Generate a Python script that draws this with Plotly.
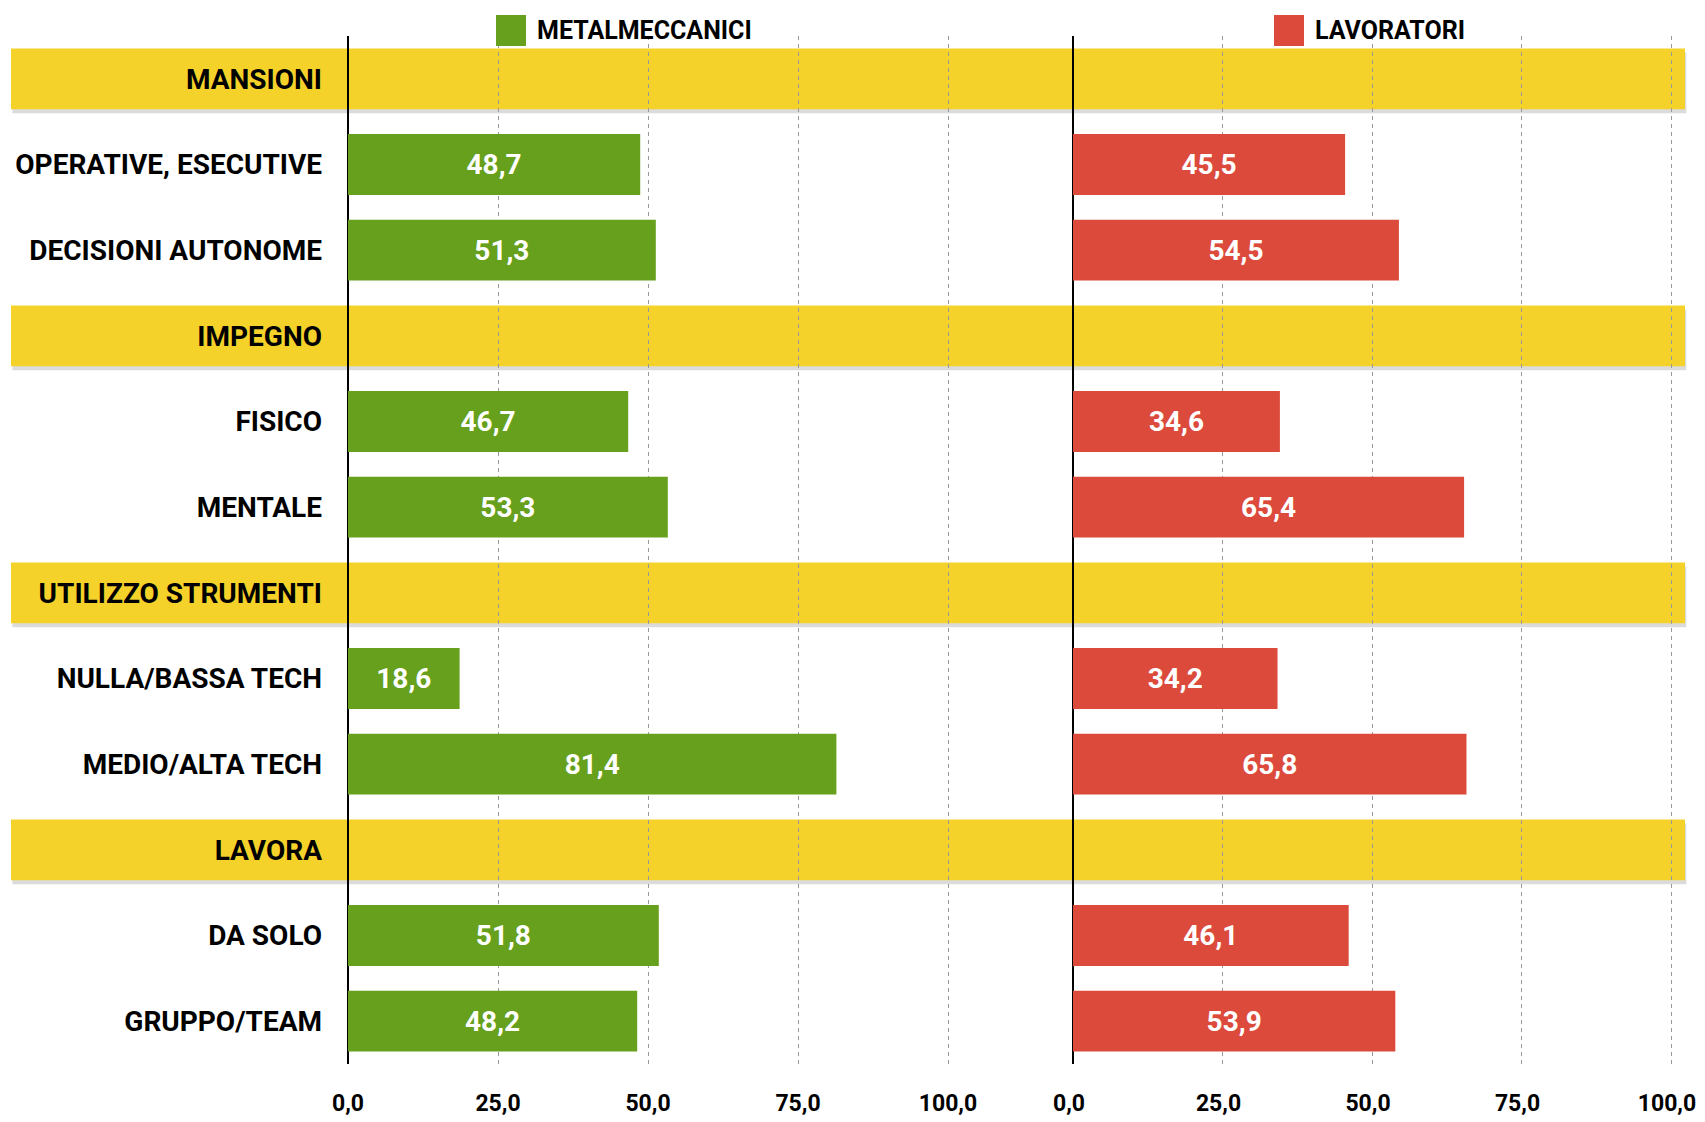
import plotly.graph_objects as go
from plotly.subplots import make_subplots

categories = ["MANSIONI", "OPERATIVE, ESECUTIVE", "DECISIONI AUTONOME",
              "IMPEGNO", "FISICO", "MENTALE",
              "UTILIZZO STRUMENTI", "NULLA/BASSA TECH", "MEDIO/ALTA TECH",
              "LAVORA", "DA SOLO", "GRUPPO/TEAM"]
is_section = [True, False, False, True, False, False, True, False, False, True, False, False]
metalmeccanici = [None, 48.7, 51.3, None, 46.7, 53.3, None, 18.6, 81.4, None, 51.8, 48.2]
lavoratori = [None, 45.5, 54.5, None, 34.6, 65.4, None, 34.2, 65.8, None, 46.1, 53.9]
x_ticks = [0, 25, 50, 75, 100]

FONT = "Roboto, sans-serif"
GREEN = "#66a01c"
RED = "#dc4a3c"
YELLOW = "#f5d22a"

OFF = 8  # page body margin
W, H = 1705 - OFF, 1122 - OFF
# target screen pixel positions (from the reference)
LEFT0, SPLIT0, RIGHT_EDGE, TOP, BOTTOM = 348, 1073, 1685, 36, 1064
ML = LEFT0 - OFF
MR = W - (RIGHT_EDGE - OFF)
MT = TOP - OFF
MB = H - (BOTTOM - OFF)
PW = W - ML - MR
PH = H - MT - MB
split = (SPLIT0 - LEFT0) / PW

rows = list(range(len(categories)))

fig = make_subplots(rows=1, cols=2, shared_yaxes=True, horizontal_spacing=0,
                    column_widths=[split, 1 - split])

fig.add_trace(go.Bar(
    y=rows, x=metalmeccanici, orientation="h", marker=dict(color=GREEN, line=dict(width=0)),
    width=0.71, texttemplate="%{x:.1f}", textposition="inside", insidetextanchor="middle",
    textfont=dict(family=FONT, size=28, color="white", weight="bold"),
    name="METALMECCANICI", showlegend=False, hoverinfo="skip"), row=1, col=1)
fig.add_trace(go.Bar(
    y=rows, x=lavoratori, orientation="h", marker=dict(color=RED, line=dict(width=0)),
    width=0.71, texttemplate="%{x:.1f}", textposition="inside", insidetextanchor="middle",
    textfont=dict(family=FONT, size=28, color="white", weight="bold"),
    name="LAVORATORI", showlegend=False, hoverinfo="skip"), row=1, col=2)


def px(p):
    return (p - LEFT0) / PW


def py(p):
    return (BOTTOM - p) / PH


x0p = px(11)
x1p = px(1685)
sh = 4 / (PH / len(categories))
for i, s in enumerate(is_section):
    if s:
        fig.add_shape(type="rect", xref="paper", yref="y", x0=x0p + 0.001, x1=x1p + 0.001,
                      y0=i - 0.355 + sh, y1=i + 0.355 + sh, fillcolor="rgba(0,0,0,0.14)",
                      line=dict(width=0), layer="below")
        fig.add_shape(type="rect", xref="paper", yref="y", x0=x0p, x1=x1p,
                      y0=i - 0.355, y1=i + 0.355, fillcolor=YELLOW,
                      line=dict(width=0), layer="below")

xaxis_common = dict(
    tickvals=x_ticks, tickformat=".1f", showgrid=True, gridcolor="#999999",
    griddash="4px,4px", gridwidth=1, zeroline=True, zerolinecolor="black",
    zerolinewidth=1.5, showline=False, ticks="", ticklabelstandoff=23,
    ticklabeloverflow="allow",
    tickfont=dict(family=FONT, size=23, color="black", weight="bold"),
    fixedrange=True, automargin=False)
fig.update_xaxes(**xaxis_common)
fig.update_xaxes(range=[0, (SPLIT0 - LEFT0) / 6.0], row=1, col=1)
fig.update_xaxes(range=[0, (RIGHT_EDGE - SPLIT0) / 5.98], ticklabelshift=-4, row=1, col=2)

fig.update_yaxes(
    tickvals=rows, ticktext=categories, range=[len(categories) - 0.5, -0.5],
    showgrid=False, zeroline=False, showline=False, ticks="", ticklabelstandoff=25,
    tickfont=dict(family=FONT, size=28, color="black", weight="bold"), fixedrange=True,
    automargin=False)

legend_items = [("METALMECCANICI", GREEN, 496), ("LAVORATORI", RED, 1274)]
for label, col, xs in legend_items:
    fig.add_shape(type="rect", xref="paper", yref="paper", x0=px(xs), x1=px(xs + 30),
                  y0=py(46), y1=py(15), fillcolor=col, line=dict(width=0))
    fig.add_annotation(xref="paper", yref="paper", x=px(xs + 39), y=py(30),
                       text=label, showarrow=False, xanchor="left", yanchor="middle",
                       font=dict(family=FONT, size=25, color="black", weight="bold"))

fig.update_layout(
    width=W, height=H, margin=dict(l=ML, r=MR, t=MT, b=MB),
    paper_bgcolor="white", plot_bgcolor="rgba(0,0,0,0)",
    separators=",.", bargap=0.3, showlegend=False)

fig.write_html("out.html")
